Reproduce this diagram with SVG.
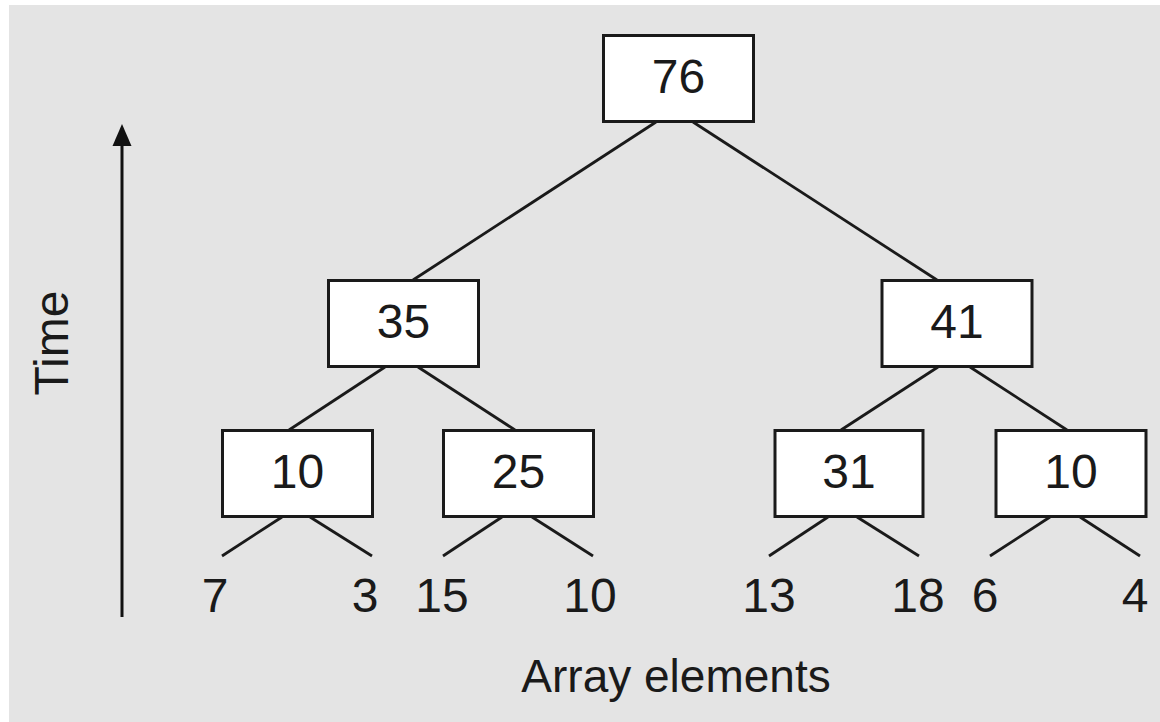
<svg xmlns="http://www.w3.org/2000/svg" width="1160" height="722" viewBox="0 0 1160 722">
  <style>
    .box { fill: #ffffff; stroke: #1a1a1a; stroke-width: 3; }
    .edge { stroke: #1a1a1a; stroke-width: 2.8; fill: none; stroke-linecap: butt; }
    .lbl { font-family: "Liberation Sans", Arial, Helvetica, sans-serif; font-size: 48px; fill: #1a1a1a; text-anchor: middle; }
  </style>
  <defs>
    <marker id="arrowHead" markerUnits="userSpaceOnUse" markerWidth="24" markerHeight="24" refX="0" refY="0" orient="auto" viewBox="0 -12 24 24">
      <path d="M0,-9.5 L22,0 L0,9.5 Z" fill="#111111"/>
    </marker>
  </defs>

  <!-- page background -->
  <rect x="0" y="0" width="1160" height="722" fill="#ffffff"/>
  <rect x="9" y="5" width="1151" height="717" fill="#e4e4e4"/>

  <!-- tree edges -->
  <g id="connectors">
    <line class="edge" x1="656" y1="122" x2="413" y2="280"/>
    <line class="edge" x1="693" y1="122" x2="937" y2="280"/>
    <line class="edge" x1="385" y1="367" x2="289" y2="430"/>
    <line class="edge" x1="418" y1="367" x2="515" y2="430"/>
    <line class="edge" x1="938" y1="367" x2="841" y2="430"/>
    <line class="edge" x1="970" y1="367" x2="1067" y2="430"/>
    <line class="edge" x1="282" y1="517" x2="222" y2="556"/>
    <line class="edge" x1="310" y1="517" x2="372" y2="556"/>
    <line class="edge" x1="502" y1="517" x2="443" y2="556"/>
    <line class="edge" x1="532" y1="517" x2="593" y2="556"/>
    <line class="edge" x1="828" y1="517" x2="769" y2="556"/>
    <line class="edge" x1="857" y1="517" x2="919" y2="556"/>
    <line class="edge" x1="1050" y1="517" x2="990" y2="556"/>
    <line class="edge" x1="1080" y1="517" x2="1140" y2="556"/>
  </g>

  <!-- sum nodes -->
  <g id="node-76">
    <rect class="box" x="603.5" y="35.5" width="150" height="86"/>
    <text class="lbl" x="678.5" y="93">76</text>
  </g>
  <g id="node-35">
    <rect class="box" x="328.5" y="280.5" width="150" height="86"/>
    <text class="lbl" x="403.5" y="338">35</text>
  </g>
  <g id="node-41">
    <rect class="box" x="882" y="280.5" width="150" height="86"/>
    <text class="lbl" x="957" y="338">41</text>
  </g>
  <g id="node-10a">
    <rect class="box" x="222.5" y="430.5" width="150" height="86"/>
    <text class="lbl" x="297.5" y="488">10</text>
  </g>
  <g id="node-25">
    <rect class="box" x="443.5" y="430.5" width="150" height="86"/>
    <text class="lbl" x="518.5" y="488">25</text>
  </g>
  <g id="node-31">
    <rect class="box" x="775" y="430.5" width="148" height="86"/>
    <text class="lbl" x="849" y="488">31</text>
  </g>
  <g id="node-10b">
    <rect class="box" x="996" y="430.5" width="150" height="86"/>
    <text class="lbl" x="1071" y="488">10</text>
  </g>

  <!-- array elements (leaves) -->
  <g id="leaves">
    <text class="lbl" x="215" y="612">7</text>
    <text class="lbl" x="365" y="612">3</text>
    <text class="lbl" x="442" y="612">15</text>
    <text class="lbl" x="590" y="612">10</text>
    <text class="lbl" x="769" y="612">13</text>
    <text class="lbl" x="918" y="612">18</text>
    <text class="lbl" x="985" y="612">6</text>
    <text class="lbl" x="1135" y="612">4</text>
  </g>

  <!-- time axis -->
  <g id="time-axis">
    <line x1="122" y1="617" x2="122" y2="146" stroke="#111111" stroke-width="3" marker-end="url(#arrowHead)"/>
    <text class="lbl" transform="translate(68,343) rotate(-90)">Time</text>
  </g>

  <g id="x-label">
    <text class="lbl" x="676" y="692" style="font-size:46px">Array elements</text>
  </g>
</svg>
